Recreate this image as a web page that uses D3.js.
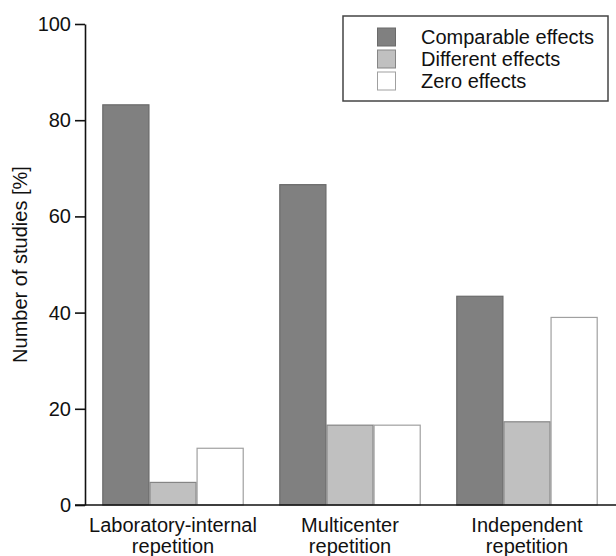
<!DOCTYPE html>
<html>
<head>
<meta charset="utf-8">
<script src="https://cdn.jsdelivr.net/npm/d3@7"></script>
<style>
  html, body { margin: 0; padding: 0; background: #fff; }
  svg { display: block; font-family: "Liberation Sans", Arial, sans-serif; }
</style>
</head>
<body>
<svg id="chart" width="616" height="556"></svg>
<script>
// ---- data ----
const categories = [["Laboratory-internal", "repetition"], ["Multicenter", "repetition"], ["Independent", "repetition"]];
const seriesNames = ["Comparable effects", "Different effects", "Zero effects"];
const comparable = [83.3, 66.7, 43.5];
const different = [4.8, 16.7, 17.4];
const zero = [11.9, 16.7, 39.1];
const yTicks = [0, 20, 40, 60, 80, 100];
const yTitle = "Number of studies [%]";

// ---- styles ----
const fills = ["#808080", "#c0c0c0", "#ffffff"];
const strokes = ["#6a6a6a", "#858585", "#a0a0a0"];
const fs = 20;

const svg = d3.select("#chart");
const seriesValues = [comparable, different, zero];
const groupIds = categories.map((c, i) => i);

const x0 = d3.scaleBand().domain(groupIds).range([84, 616]).paddingInner(0.201).paddingOuter(0.1034);
const x1 = d3.scaleBand().domain(seriesNames).range([0, x0.bandwidth()]).padding(0);
const y = d3.scaleLinear().domain([0, 100]).range([505, 24]);

// bars
groupIds.forEach(g => {
  seriesNames.forEach((s, si) => {
    const v = seriesValues[si][g];
    svg.append("rect")
      .attr("x", x0(g) + x1(s) + 0.5)
      .attr("y", y(v) + 0.5)
      .attr("width", x1.bandwidth() - 1)
      .attr("height", y(0) - y(v) - 0.5)
      .attr("fill", fills[si])
      .attr("stroke", strokes[si])
      .attr("stroke-width", 1.2);
  });
});

// y axis
const yAxis = d3.axisLeft(y).tickValues(yTicks).tickSize(10).tickPadding(4).tickSizeOuter(0);
const gy = svg.append("g").attr("transform", "translate(85,0)").call(yAxis);
gy.select(".domain").attr("stroke", "#111").attr("stroke-width", 1.6);
gy.selectAll(".tick line").attr("stroke", "#111").attr("stroke-width", 1.6);
gy.selectAll(".tick text").attr("font-size", fs).attr("fill", "#111")
  .attr("font-family", "'Liberation Sans', Arial, sans-serif");

// x axis baseline
svg.append("line")
  .attr("x1", 75).attr("x2", 616)
  .attr("y1", y(0)).attr("y2", y(0))
  .attr("stroke", "#111").attr("stroke-width", 1.6);

// x labels
groupIds.forEach(g => {
  const t = svg.append("text")
    .attr("x", x0(g) + x0.bandwidth() / 2)
    .attr("y", 532)
    .attr("text-anchor", "middle")
    .attr("font-size", fs)
    .attr("fill", "#111");
  categories[g].forEach((line, li) => {
    t.append("tspan").attr("x", x0(g) + x0.bandwidth() / 2).attr("dy", li === 0 ? 0 : 21).text(line);
  });
});

// y title
svg.append("text")
  .attr("transform", `translate(27,${(y(0) + y(100)) / 2}) rotate(-90)`)
  .attr("text-anchor", "middle")
  .attr("font-size", fs)
  .attr("fill", "#111")
  .text(yTitle);

// legend
const lg = svg.append("g");
lg.append("rect").attr("x", 343).attr("y", 16).attr("width", 265).attr("height", 85)
  .attr("fill", "#fff").attr("stroke", "#444").attr("stroke-width", 1.5);
seriesNames.forEach((s, i) => {
  lg.append("rect").attr("x", 377.5).attr("y", 28 + i * 22).attr("width", 18).attr("height", 18)
    .attr("fill", fills[i]).attr("stroke", strokes[i]).attr("stroke-width", 1);
  lg.append("text").attr("x", 421).attr("y", 44 + i * 22)
    .attr("font-size", fs).attr("fill", "#111").text(s);
});
</script>
</body>
</html>
